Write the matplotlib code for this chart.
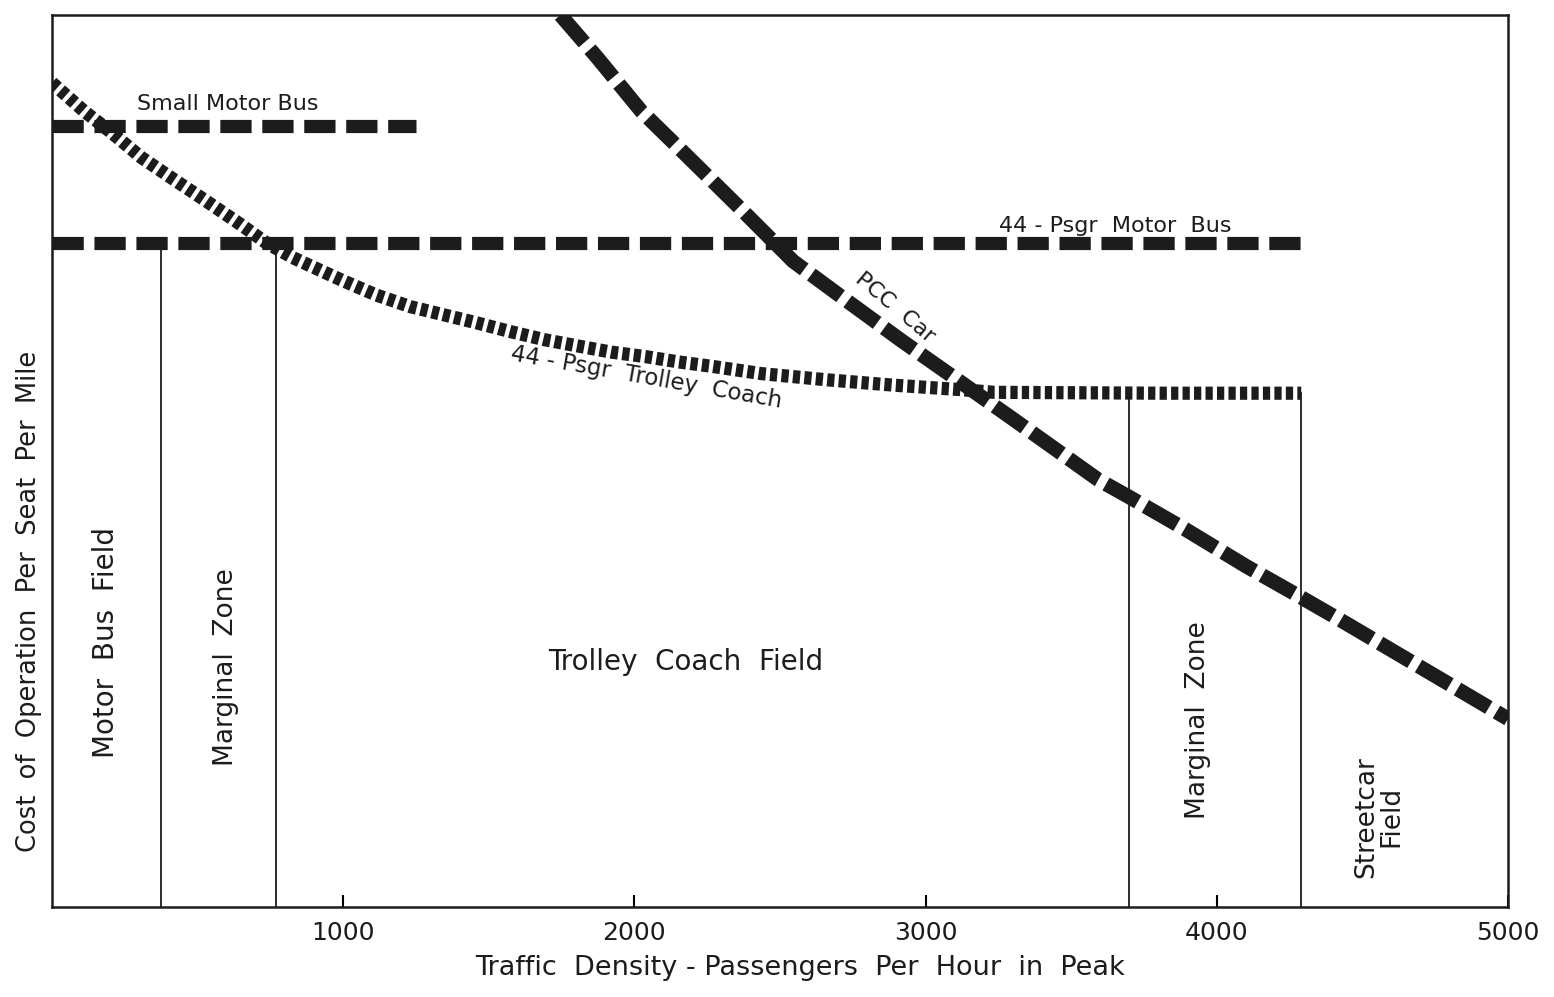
import matplotlib
matplotlib.use("Agg")
import matplotlib.pyplot as plt

# Traffic density (passengers per hour in peak) vs. relative cost per seat-mile
small_bus_x = [0, 1250]
small_bus_y = [87.6, 87.6]

motor_bus_x = [0, 4290]
motor_bus_y = [74.4, 74.4]

trolley_x = [0, 111, 205, 308, 412, 527, 644, 734, 827, 886, 1000, 1114, 1231,
             1344, 1457, 1575, 1691, 1805, 1922, 2039, 2153, 2269, 2435, 2662,
             2891, 3121, 3235, 3809, 4290]
trolley_y = [92.4, 89.2, 86.8, 84.0, 81.7, 79.2, 76.6, 74.5, 72.8, 71.9, 70.2,
             68.6, 67.3, 66.4, 65.5, 64.5, 63.6, 62.9, 62.2, 61.7, 61.1, 60.6,
             59.8, 59.1, 58.5, 58.0, 57.7, 57.6, 57.6]

pcc_x = [1746, 1873, 2024, 2187, 2361, 2545, 2728, 2917, 3109, 3296, 3593,
         3697, 3894, 4101, 4285, 4423, 5000]
pcc_y = [100.0, 95.2, 89.2, 84.0, 78.4, 72.4, 68.0, 63.5, 59.1, 54.8, 47.9,
         46.0, 42.3, 38.2, 34.8, 32.2, 21.1]

# zone boundaries: x position and where the line stops at the top
bounds_x = [375, 770, 3700, 4290]
bounds_top = [74.4, 74.4, 57.6, 57.6]

xticks = [1000, 2000, 3000, 4000, 5000]

ink = "#1c1c1c"
plt.rcParams['font.family'] = ['DejaVu Sans']

fig = plt.figure(figsize=(15.54, 9.97), dpi=100)
ax = fig.add_axes([52 / 1554, 1 - 907 / 997, 1456 / 1554, 892 / 997])
ax.set_xlim(0, 5000)
ax.set_ylim(0, 100)

# cost curves
ax.plot(small_bus_x, small_bus_y, color=ink, lw=9.5, dashes=(2.37, 0.81),
        dash_capstyle='butt')
ax.plot(motor_bus_x, motor_bus_y, color=ink, lw=9.5, dashes=(2.37, 0.81),
        dash_capstyle='butt')
ax.plot(trolley_x, trolley_y, color=ink, lw=9.5, dashes=(0.55, 0.32),
        dash_capstyle='butt')
ax.plot(pcc_x, pcc_y, color=ink, lw=10.5, dashes=(2.5, 0.6),
        dash_capstyle='butt')

# zone separators
for bx, bt in zip(bounds_x, bounds_top):
    ax.plot([bx, bx], [0, bt], color=ink, lw=1.3)

# curve labels
ax.text(604, 90.0, "Small Motor Bus", fontsize=16, color=ink, ha='center', va='center')
ax.text(3650, 76.4, "44 - Psgr  Motor  Bus", fontsize=16, color=ink, ha='center',
        va='center')
ax.text(2895, 67.2, "PCC  Car", fontsize=16, color=ink, ha='center', va='center',
        rotation=-40)
ax.text(2040, 59.4, "44 - Psgr  Trolley  Coach", fontsize=16.5, color=ink,
        ha='center', va='center', rotation=-10)

# zone labels
ax.text(185, 29.6, "Motor  Bus  Field", fontsize=20, color=ink, ha='center',
        va='center', rotation=90)
ax.text(597, 26.9, "Marginal  Zone", fontsize=19, color=ink, ha='center',
        va='center', rotation=90)
ax.text(2175, 27.5, "Trolley  Coach  Field", fontsize=20, color=ink, ha='center',
        va='center')
ax.text(3935, 21.0, "Marginal  Zone", fontsize=19, color=ink, ha='center',
        va='center', rotation=90)
ax.text(4555, 10.1, "Streetcar\nField", fontsize=19, color=ink, ha='center',
        va='center', rotation=90, linespacing=0.95)

# axes styling
for s in ax.spines.values():
    s.set_linewidth(1.8)
    s.set_color(ink)
ax.set_xticks(xticks)
ax.set_xticklabels([str(t) for t in xticks], fontsize=18, color=ink)
ax.tick_params(axis='x', direction='in', length=9, width=1.5, pad=10)
ax.set_yticks([])
ax.set_xlabel("Traffic  Density - Passengers  Per  Hour  in  Peak", fontsize=19.5,
              color=ink)
ax.xaxis.set_label_coords(0.514, -0.054)
ax.set_ylabel("Cost  of  Operation  Per  Seat  Per  Mile", fontsize=18.5,
              color=ink)
ax.yaxis.set_label_coords(-0.007, 0.343)

fig.savefig("out.png", dpi=100)
